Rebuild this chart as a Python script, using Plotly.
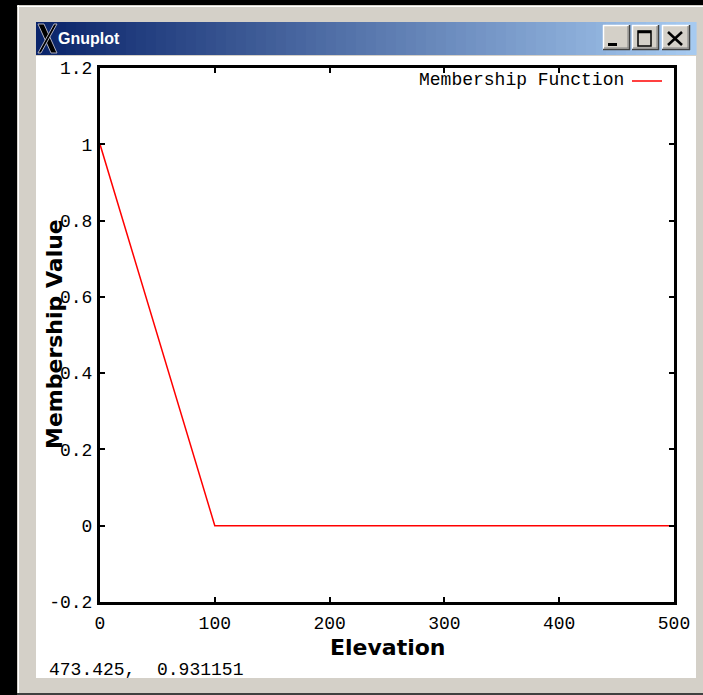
import plotly.graph_objects as go

# ---- data ----
elevation = [0, 100, 500]
membership = [1, 0, 0]
x_ticks = [0, 100, 200, 300, 400, 500]
x_tick_labels = ["0", "100", "200", "300", "400", "500"]
y_ticks = [-0.2, 0, 0.2, 0.4, 0.6, 0.8, 1.0, 1.2]
y_tick_labels = ["-0.2", "0", "0.2", "0.4", "0.6", "0.8", "1", "1.2"]
series_name = "Membership Function"
status_text = "473.425,\u00a0\u00a00.931151"

# ---- geometry (pixels) ----
WIDTH, HEIGHT = 703, 695
L, R, T, B = 100, 674, 68, 602
PW, PH = R - L, B - T


def px(x):
    return (x - L) / PW


def py(y):
    return (B - y) / PH


shapes = []


def rect(x0, y0, x1, y1, fill, layer="below", line_color=None, lw=0):
    shapes.append(dict(type="rect", xref="paper", yref="paper",
                       x0=px(x0), x1=px(x1), y0=py(y1), y1=py(y0),
                       fillcolor=fill, layer=layer,
                       line=dict(width=lw, color=line_color or fill)))


def seg(x0, y0, x1, y1, color, w, layer="above"):
    shapes.append(dict(type="line", xref="paper", yref="paper",
                       x0=px(x0), x1=px(x1), y0=py(y0), y1=py(y1),
                       layer=layer, line=dict(color=color, width=w)))


# window frame
rect(17, 5, 703, 693, "#d4d0c8")
seg(18.5, 5, 18.5, 693, "#ffffff", 1, layer="below")
seg(17, 6.5, 703, 6.5, "#ffffff", 1, layer="below")
seg(17, 694, 703, 694, "#404040", 2, layer="below")
# client area
rect(36, 56, 696, 678, "#ffffff")

# title bar gradient
c0 = (10, 36, 106)
c1 = (166, 202, 240)
x_start, x_end, n = 36, 696, 66
step = (x_end - x_start) / n
for i in range(n):
    t = i / (n - 1)
    c = tuple(int(round(c0[k] + (c1[k] - c0[k]) * t)) for k in range(3))
    rect(x_start + i * step, 22, x_start + (i + 1) * step + 0.6, 55,
         "rgb(%d,%d,%d)" % c)


# X11 logo
def poly(pts, fill, line_color, lw):
    d = "M " + " L ".join("%f,%f" % (px(a), py(b)) for a, b in pts) + " Z"
    shapes.append(dict(type="path", xref="paper", yref="paper", path=d,
                       fillcolor=fill, layer="above",
                       line=dict(color=line_color, width=lw)))


poly([(38, 24), (44, 24), (57, 53), (51, 53)], "#000000", "#b0b0c0", 1)
poly([(54, 24), (57, 24), (41, 53), (38, 53)], "#000000", "#b0b0c0", 1)


# title bar buttons
def button(x0, x1):
    rect(x0, 25, x1, 50, "#d4d0c8", layer="above")
    seg(x0, 25.5, x1, 25.5, "#ffffff", 1.5)
    seg(x0 + 0.5, 25, x0 + 0.5, 50, "#ffffff", 1.5)
    seg(x0, 49.5, x1, 49.5, "#404040", 1.5)
    seg(x1 - 0.5, 25, x1 - 0.5, 50, "#404040", 1.5)
    seg(x0 + 1, 48, x1 - 1, 48, "#808080", 1)
    seg(x1 - 2, 26, x1 - 2, 48, "#808080", 1)


button(603, 630)
button(632, 659)
button(662, 690)
# minimize glyph
rect(608, 43, 617, 46, "#000000", layer="above")
# maximize glyph
shapes.append(dict(type="rect", xref="paper", yref="paper",
                   x0=px(638), x1=px(651), y0=py(46), y1=py(31),
                   layer="above", line=dict(color="#000000", width=1.5)))
seg(638, 32, 651, 32, "#000000", 2.5)
# close glyph
seg(668, 32, 682, 45, "#000000", 2.5)
seg(682, 32, 668, 45, "#000000", 2.5)

# legend sample line
seg(632, 81, 662, 81, "#ff0000", 1.5)


def note(text, x, y, xanchor, size, family, color="#000000", angle=0):
    return dict(text=text, x=px(x), y=py(y), xref="paper", yref="paper",
                xanchor=xanchor, yanchor="middle", showarrow=False,
                textangle=angle,
                font=dict(family=family, size=size, color=color))


MONO = "Liberation Mono"
annotations = [
    note("<b>Gnuplot</b>", 56, 39, "left", 16, "Liberation Sans", "#ffffff"),
    note(series_name, 626, 80, "right", 18, MONO),
    note("<b>Elevation</b>", 388, 647, "center", 22, "DejaVu Sans"),
    note("<b>Membership Value</b>", 54, 334, "center", 22, "DejaVu Sans",
         angle=-90),
    note(status_text, 47, 670, "left", 18, MONO),
]

fig = go.Figure()
fig.add_trace(go.Scatter(x=elevation, y=membership, mode="lines",
                         name=series_name,
                         line=dict(color="#ff0000", width=1.5),
                         showlegend=False, hoverinfo="skip"))

tick_font = dict(family=MONO, size=18, color="#000000")
fig.update_layout(
    width=WIDTH, height=HEIGHT, autosize=False,
    margin=dict(l=L, r=WIDTH - R, t=T, b=HEIGHT - B, pad=0),
    paper_bgcolor="#000000", plot_bgcolor="rgba(0,0,0,0)",
    showlegend=False,
    shapes=shapes, annotations=annotations,
    xaxis=dict(range=[0, 500], tickvals=x_ticks, ticktext=x_tick_labels,
               showgrid=False, zeroline=False, showline=True, linewidth=3,
               linecolor="#000000", mirror="allticks", ticks="inside",
               ticklen=5, tickwidth=2, tickcolor="#000000",
               tickfont=tick_font, ticklabelstandoff=2),
    yaxis=dict(range=[-0.2, 1.2], tickvals=y_ticks, ticktext=y_tick_labels,
               showgrid=False, zeroline=False, showline=True, linewidth=3,
               linecolor="#000000", mirror="allticks", ticks="inside",
               ticklen=5, tickwidth=2, tickcolor="#000000",
               tickfont=tick_font, ticklabelstandoff=1),
)

fig.write_html(
    "out.html",
    config={"displayModeBar": False},
    post_script="document.body.style.margin='0';"
                "document.body.style.background='#000000';",
)
